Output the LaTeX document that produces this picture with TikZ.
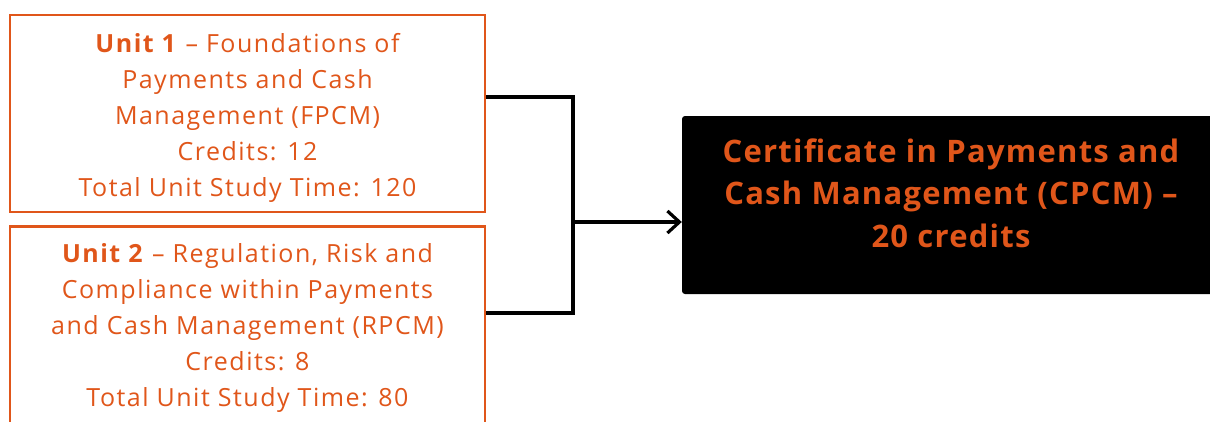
\documentclass[tikz,border=0pt]{standalone}
\usepackage{fontspec}
\setmainfont{Open Sans}
\newfontfamily\unitfont[LetterSpace=6]{Open Sans}
\newfontfamily\certfont[LetterSpace=4]{Open Sans}
\usetikzlibrary{arrows.meta}
\definecolor{orng}{HTML}{E0561A}
\tikzset{
  unitbox/.style={draw=orng, line width=2.5pt, minimum width=475pt, minimum height=197pt, inner sep=0pt},
  unittext/.style={text=orng, align=center, inner sep=0pt, font=\unitfont\fontsize{25}{35.8}\selectfont},
  conn/.style={draw=black, line width=3.2pt},
  certbox/.style={fill=black, rounded corners=3pt, minimum width=534pt, minimum height=178pt, inner sep=0pt},
  certtext/.style={text=orng, align=center, inner sep=0pt, font=\certfont\bfseries\fontsize{31}{42.5}\selectfont}
}
\begin{document}
\begin{tikzpicture}[x=1pt,y=-1pt]
\useasboundingbox (0,0) rectangle (1210,421);
\node[unitbox] (u1) at (247.5,113.5) {};
\node[unittext] (t1) at (247.5,118) {\textbf{Unit 1} – Foundations of\\Payments and Cash\\Management (FPCM)\\Credits: 12\\Total Unit Study Time: 120};
\node[unitbox] (u2) at (247.5,325) {};
\node[unittext] (t2) at (247.5,328) {\textbf{Unit 2} – Regulation, Risk and\\Compliance within Payments\\and Cash Management (RPCM)\\Credits: 8\\Total Unit Study Time: 80};
\node[certbox] (cert) at (949,205) {};
\node[certtext] (ct) at (951,193) {Certificate in Payments and\\Cash Management (CPCM) –\\20 credits};
\coordinate (j) at (573,222);
\draw[conn] ([yshift=16.5pt]u1.east) -| (j) |- ([yshift=12pt]u2.east);
\draw[conn, -{Straight Barb[length=12pt,width=22pt,line width=3.2pt]}] (j) -- (cert.west |- j);
\end{tikzpicture}
\end{document}
